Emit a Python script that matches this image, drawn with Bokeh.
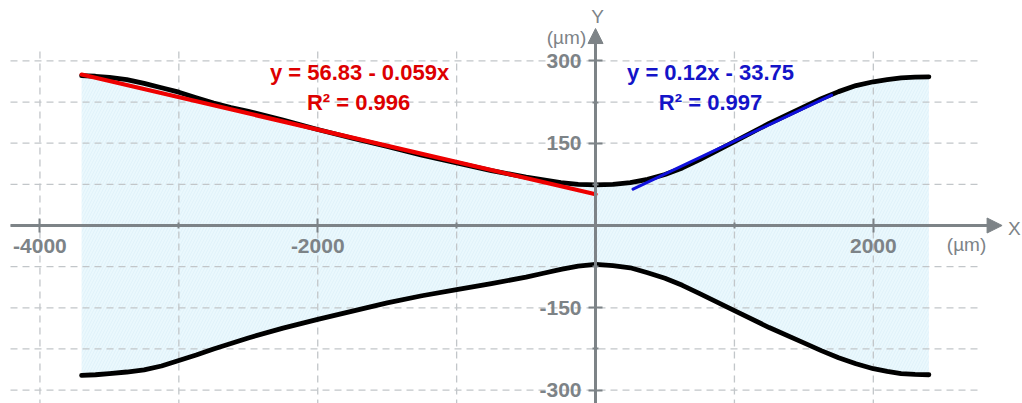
from bokeh.plotting import figure
from bokeh.models import LinearAxis, FixedTicker, Arrow, NormalHead, Range1d
from bokeh.core.properties import value
from bokeh.embed import file_html
from bokeh.resources import INLINE

# Channel profile: wall positions (µm) along the channel axis (µm)
x_wall = [-3700, -3600, -3500, -3375, -3250, -3125, -3000, -2875, -2750, -2625, -2500,
          -2250, -2000, -1750, -1500, -1250, -1000, -750, -500, -375, -250, -125, 0,
          125, 250, 375, 500, 625, 750, 1000, 1250, 1500, 1625, 1750, 1875, 2000,
          2100, 2200, 2300, 2400]
y_upper = [273, 272, 270, 266, 259, 251, 243, 233, 223, 215, 208,
           192, 175, 159, 144, 128, 114, 100, 88, 83, 78, 75, 74,
           75, 78, 84, 93, 105, 120, 153, 186, 216, 231, 244, 255, 262,
           266, 269, 270.5, 271]
y_lower = [-273, -272, -270, -267, -263, -256, -246, -236, -225, -215, -205,
           -187, -171, -156, -141, -128, -117, -106, -94, -87, -80, -74, -71,
           -73, -77, -86, -96, -109, -124, -155, -186, -214, -228, -241, -252, -261,
           -266, -270, -271.5, -272]

# Linear fits of the converging and diverging sections
left_fit_intercept = 56.83
left_fit_slope = -0.059
left_fit_x = [-3700, 0]
right_fit_intercept = 33.75
right_fit_slope = 0.12
right_fit_x = [270, 1700]

left_fit_labels = ["y = 56.83 - 0.059x", "R\u00b2 = 0.996"]
right_fit_labels = ["y = 0.12x - 33.75", "R\u00b2 = 0.997"]

x_major_ticks = [-4000, -2000, 2000]
x_minor_ticks = [-3000, -1000, 1000]
y_major_ticks = [-300, -150, 150, 300]
y_minor_ticks = [-225, -75, 75, 225]
x_grid_values = [-4000, -3000, -2000, -1000, 0, 1000, 2000]
y_grid_values = [-300, -225, -150, -75, 0, 75, 150, 225, 300]

FONT = value("Liberation Sans")
AXIS_COLOR = "#7d8387"
GRID_COLOR = "#c2c6c9"

p = figure(width=1022, height=403, output_backend="svg", toolbar_location=None,
           x_axis_location=None, y_axis_location=None,
           x_range=Range1d(-4284, 3074), y_range=Range1d(-324.4, 410.1),
           min_border=0, outline_line_color=None,
           background_fill_color="white", border_fill_color="white")
p.xgrid.visible = False
p.ygrid.visible = False

# Shaded channel cross-section
p.varea(x=x_wall, y1=y_lower, y2=y_upper, fill_color="#eaf8fd",
        hatch_pattern="/", hatch_color="#cbe6f1", hatch_alpha=0.45,
        hatch_scale=6, hatch_weight=0.7)

# Dashed grid
grid_top, grid_bottom = 322.6, -330
grid_left, grid_right = -4212, 2772
p.multi_line(xs=[[gx, gx] for gx in x_grid_values],
             ys=[[grid_bottom, grid_top] for _ in x_grid_values],
             line_color=GRID_COLOR, line_width=1.3, line_dash="7 5")
p.multi_line(xs=[[grid_left, grid_right] for _ in y_grid_values],
             ys=[[gy, gy] for gy in y_grid_values],
             line_color=GRID_COLOR, line_width=1.3, line_dash="7 5")

# Channel walls
p.line(x_wall, y_upper, line_color="black", line_width=4.8, line_cap="round", line_join="round")
p.line(x_wall, y_lower, line_color="black", line_width=4.8, line_cap="round", line_join="round")

# Fit lines
left_fit_y = [left_fit_intercept + left_fit_slope * xv for xv in left_fit_x]
right_fit_y = [right_fit_intercept + right_fit_slope * xv for xv in right_fit_x]
p.line(left_fit_x, left_fit_y, line_color="#ee0000", line_width=4.2, line_cap="round")
p.line(right_fit_x, right_fit_y, line_color="#1010dd", line_width=3, line_cap="round")

# Fit equations
p.text(x=[-1699, -1706], y=[279, 224], text=left_fit_labels, text_color="#dd0000",
       text_font=FONT, text_font_style="bold", text_font_size="22px",
       text_align="center", text_baseline="middle")
p.text(x=[828, 828], y=[279, 224], text=right_fit_labels, text_color="#1414c8",
       text_font=FONT, text_font_style="bold", text_font_size="22px",
       text_align="center", text_baseline="middle")

# Axes crossing at the origin
xaxis = LinearAxis(fixed_location=0, bounds=(-4212, 2850),
                   ticker=FixedTicker(ticks=x_major_ticks, minor_ticks=x_minor_ticks))
yaxis = LinearAxis(fixed_location=0, bounds=(-330, 340),
                   ticker=FixedTicker(ticks=y_major_ticks, minor_ticks=y_minor_ticks))
xaxis.major_label_overrides = {t: str(t) for t in x_major_ticks}
yaxis.major_label_overrides = {t: str(t) for t in y_major_ticks}
for ax in (xaxis, yaxis):
    ax.axis_line_color = AXIS_COLOR
    ax.axis_line_width = 3
    ax.major_tick_line_color = AXIS_COLOR
    ax.major_tick_line_width = 2
    ax.major_tick_in = 7
    ax.major_tick_out = 7
    ax.minor_tick_line_color = AXIS_COLOR
    ax.minor_tick_line_width = 2
    ax.minor_tick_in = 3
    ax.minor_tick_out = 3
    ax.major_label_text_font = "Liberation Sans"
    ax.major_label_text_font_style = "bold"
    ax.major_label_text_font_size = "21px"
    ax.major_label_text_color = AXIS_COLOR
xaxis.major_label_standoff = 6
yaxis.major_label_standoff = 7
p.add_layout(xaxis, "below")
p.add_layout(yaxis, "left")

p.add_layout(Arrow(x_start=2800, y_start=0, x_end=2927, y_end=0,
                   line_color=AXIS_COLOR, line_width=3,
                   end=NormalHead(size=15, fill_color=AXIS_COLOR, line_color=AXIS_COLOR)))
p.add_layout(Arrow(x_start=0, y_start=330, x_end=0, y_end=359,
                   line_color=AXIS_COLOR, line_width=3,
                   end=NormalHead(size=15, fill_color=AXIS_COLOR, line_color=AXIS_COLOR)))

# Axis names and units
p.text(x=[3016, 14], y=[-5, 381], text=["X", "Y"], text_color=AXIS_COLOR,
       text_font=FONT, text_font_size="19px", text_align="center", text_baseline="middle")
p.text(x=[2671, -209], y=[-35, 343], text=["(\u00b5m)", "(\u00b5m)"], text_color=AXIS_COLOR,
       text_font=FONT, text_font_size="19px", text_align="center", text_baseline="middle")

open("out.html", "w").write(file_html(p, INLINE))
